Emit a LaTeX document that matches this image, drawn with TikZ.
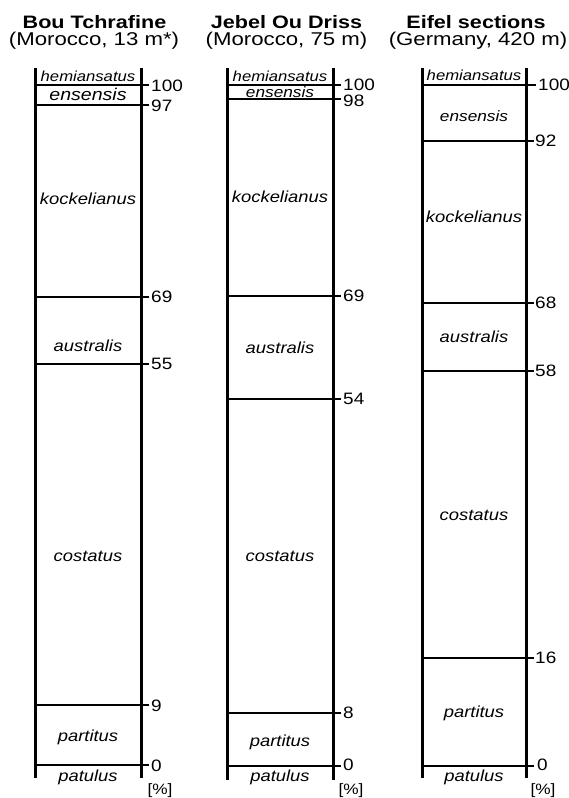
\documentclass[tikz,border=0pt]{standalone}
\usepackage{fontspec}
\setmainfont{Liberation Sans}
\usepackage{graphicx}
\newcommand\hst[1]{\scalebox{1.15}[1]{#1}}
\newcommand\tst[1]{\scalebox{1.2}[1]{#1}}
\begin{document}
\begin{tikzpicture}[x=1pt,y=-1pt,
  vline/.style={line width=3pt},
  thickb/.style={line width=2.4pt},
  thinb/.style={line width=1.3pt},
  ttl/.style={font=\fontsize{18}{20}\selectfont\bfseries, anchor=base, inner sep=0},
  sub/.style={font=\fontsize{18.5}{20}\selectfont, anchor=base, inner sep=0},
  zone/.style={font=\fontsize{16}{18}\selectfont\itshape, inner sep=0},
  szone/.style={font=\fontsize{14.5}{16}\selectfont\itshape, inner sep=0},
  num/.style={font=\fontsize{16.5}{18}\selectfont, anchor=west, inner sep=0},
  pct/.style={font=\fontsize{15}{16}\selectfont, inner sep=0}]
\useasboundingbox (0,0) rectangle (569,798);

% ---------- Column 1 ----------
\node[ttl] (t1) at (94.5,28) {\tst{Bou Tchrafine}};
\node[sub] (s1) at (94,45) {\tst{(Morocco, 13 m*)}};
\coordinate (a1t) at (35,68); \coordinate (a1b) at (35,778);
\coordinate (b1t) at (141,68); \coordinate (b1b) at (141,778);
\draw[vline] (a1t) -- (a1b);
\draw[vline] (b1t) -- (b1b);
\draw[thickb] (35,85) -- (149,85);
\draw[thinb] (35,105) -- (149,105);
\draw[thinb] (35,297) -- (149,297);
\draw[thinb] (35,364) -- (149,364);
\draw[thinb] (35,705) -- (149,705);
\draw[thickb] (35,765) -- (149,765);
\node[num] (n1a) at (151,86) {\hst{100}};
\node[num] (n1b) at (151,106) {\hst{97}};
\node[num] (n1c) at (151,297) {\hst{69}};
\node[num] (n1d) at (151,364) {\hst{55}};
\node[num] (n1e) at (151,706) {\hst{9}};
\node[num] (n1f) at (151,766) {\hst{0}};
\node[pct] (p1) at (160,791) {\hst{[\%]}};
\node[szone] (z1a) at (88,76) {\hst{hemiansatus}};
\node[zone,font=\fontsize{17}{18}\selectfont\itshape] (z1b) at (88,94) {\hst{ensensis}};
\node[zone] (z1c) at (88,199) {\hst{kockelianus}};
\node[zone] (z1d) at (88,346) {\hst{australis}};
\node[zone] (z1e) at (88,556) {\hst{costatus}};
\node[zone] (z1f) at (88,737) {\hst{partitus}};
\node[zone] (z1g) at (88,777) {\hst{patulus}};

% ---------- Column 2 ----------
\node[ttl] (t2) at (286.5,28) {\tst{Jebel Ou Driss}};
\node[sub] (s2) at (286.5,45) {\tst{(Morocco, 75 m)}};
\coordinate (a2t) at (227,68); \coordinate (a2b) at (227,780);
\coordinate (b2t) at (333,68); \coordinate (b2b) at (333,780);
\draw[vline] (a2t) -- (a2b);
\draw[vline] (b2t) -- (b2b);
\draw[thickb] (227,85) -- (341,85);
\draw[thinb] (227,99) -- (341,99);
\draw[thinb] (227,296) -- (341,296);
\draw[thinb] (227,399) -- (341,399);
\draw[thinb] (227,713) -- (341,713);
\draw[thickb] (227,766) -- (341,766);
\node[num] (n2a) at (343,84.5) {\hst{100}};
\node[num] (n2b) at (343,101) {\hst{98}};
\node[num] (n2c) at (343,296) {\hst{69}};
\node[num] (n2d) at (343,399) {\hst{54}};
\node[num] (n2e) at (343,713) {\hst{8}};
\node[num] (n2f) at (343,765) {\hst{0}};
\node[pct] (p2) at (351,791) {\hst{[\%]}};
\node[szone] (z2a) at (280,76) {\hst{hemiansatus}};
\node[szone,font=\fontsize{15}{16}\selectfont\itshape] (z2b) at (280,92) {\hst{ensensis}};
\node[zone] (z2c) at (280,197) {\hst{kockelianus}};
\node[zone] (z2d) at (280,348) {\hst{australis}};
\node[zone] (z2e) at (280,556) {\hst{costatus}};
\node[zone] (z2f) at (280,742) {\hst{partitus}};
\node[zone] (z2g) at (280,777) {\hst{patulus}};

% ---------- Column 3 ----------
\node[ttl] (t3) at (476,28) {\tst{Eifel sections}};
\node[sub] (s3) at (478,45) {\tst{(Germany, 420 m)}};
\coordinate (a3t) at (422,68); \coordinate (a3b) at (422,778);
\coordinate (b3t) at (526,68); \coordinate (b3b) at (526,778);
\draw[vline] (a3t) -- (a3b);
\draw[vline] (b3t) -- (b3b);
\draw[thickb] (422,85) -- (536,85);
\draw[thinb] (422,141) -- (534,141);
\draw[thinb] (422,303) -- (534,303);
\draw[thinb] (422,371) -- (534,371);
\draw[thinb] (422,658) -- (534,658);
\draw[thickb] (422,766) -- (534,766);
\node[num] (n3a) at (538,85) {\hst{100}};
\node[num] (n3b) at (535,141) {\hst{92}};
\node[num] (n3c) at (535,303) {\hst{68}};
\node[num] (n3d) at (535,371) {\hst{58}};
\node[num] (n3e) at (535,658) {\hst{16}};
\node[num] (n3f) at (537,765) {\hst{0}};
\node[pct] (p3) at (543,791) {\hst{[\%]}};
\node[szone] (z3a) at (474,75) {\hst{hemiansatus}};
\node[zone,font=\fontsize{15}{16}\selectfont\itshape] (z3b) at (474,116) {\hst{ensensis}};
\node[zone] (z3c) at (474,217) {\hst{kockelianus}};
\node[zone] (z3d) at (474,337) {\hst{australis}};
\node[zone] (z3e) at (474,515) {\hst{costatus}};
\node[zone] (z3f) at (474,713) {\hst{partitus}};
\node[zone] (z3g) at (474,777) {\hst{patulus}};
\end{tikzpicture}
\end{document}
